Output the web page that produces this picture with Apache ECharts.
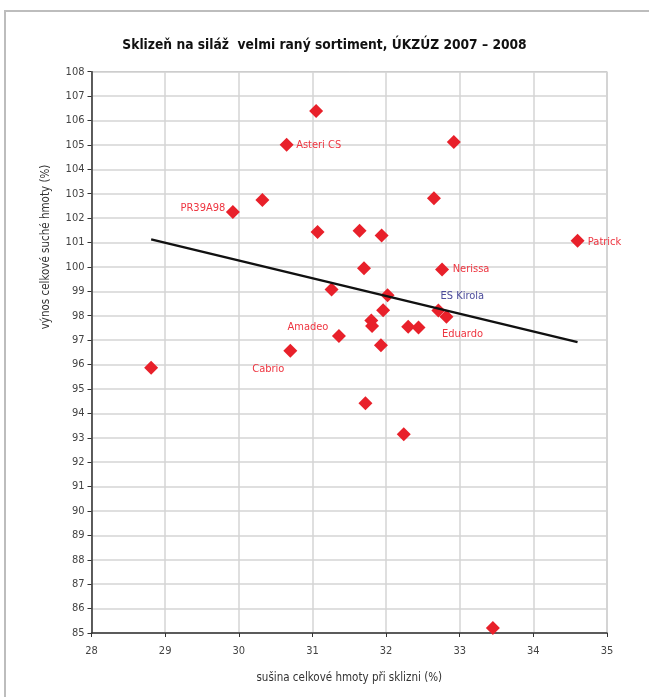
<!DOCTYPE html>
<html><head><meta charset="utf-8">
<script src="https://cdn.jsdelivr.net/npm/echarts@6/dist/echarts.min.js"></script>
<style>html,body{margin:0;padding:0;background:#fff}#c{width:649px;height:697px}</style>
</head><body><div id="c"></div>
<script>
// Data
var titleText = 'Sklizeň na siláž  velmi raný sortiment, ÚKZÚZ 2007 – 2008';
var xName = 'sušina celkové hmoty při sklizni (%)';
var yName = 'výnos celkové suché hmoty (%)';
var sušina = [31.05, 30.65, 29.92, 30.32, 31.07, 31.64, 31.70, 31.26, 31.36, 30.70, 32.92, 32.65, 31.94, 34.60, 32.76, 32.02, 31.96, 31.80, 31.81, 32.71, 32.82, 32.30, 32.44, 31.93, 28.81, 31.72, 32.24, 33.45];
var vynos  = [106.39, 105.01, 102.25, 102.74, 101.43, 101.48, 99.95, 99.08, 97.17, 96.57, 105.12, 102.81, 101.29, 101.07, 99.90, 98.84, 98.23, 97.80, 97.58, 98.21, 97.96, 97.55, 97.52, 96.79, 95.87, 94.41, 93.14, 85.20];
var names  = ['', 'Asteri CS', 'PR39A98', '', '', '', '', '', 'Amadeo', 'Cabrio', '', '', '', 'Patrick', 'Nerissa', '', '', '', '', 'ES Kirola', 'Eduardo', '', '', '', '', '', '', ''];
var trendX = [28.81, 34.60];
var trendY = [101.13, 96.92];

var FONT = '"Liberation Sans Narrow", "DejaVu Sans Condensed", "Open Sans", sans-serif';
var labelStyle = {
  'Asteri CS': {offset: [32, 0]},
  'PR39A98': {offset: [-30, -4]},
  'Patrick': {offset: [27, 1]},
  'Nerissa': {offset: [29, 0]},
  'ES Kirola': {offset: [24, -14], color: '#4b4b9b'},
  'Eduardo': {offset: [16, 17]},
  'Amadeo': {offset: [-31, -9]},
  'Cabrio': {offset: [-22, 18]}
};

var pts = sušina.map(function (x, i) {
  var d = {value: [x, vynos[i]], name: names[i]};
  if (names[i]) {
    var s = labelStyle[names[i]] || {};
    d.label = {show: true, position: 'inside', formatter: '{b}', offset: s.offset || [0, 0],
      color: s.color || '#ee3540', fontFamily: FONT, fontSize: 11};
  }
  return d;
});

var chart = echarts.init(document.getElementById('c'), null, {renderer: 'canvas'});
chart.setOption({
  animation: false,
  backgroundColor: '#fff',
  title: {text: titleText, left: 'center', top: 33,
    textStyle: {fontFamily: FONT, fontSize: 13.7, fontWeight: 'bold', color: '#111'}},
  grid: {left: 91.5, right: 42, top: 71.7, bottom: 64, show: true, borderColor: '#a6a6a6', borderWidth: 1},
  xAxis: {type: 'value', min: 28, max: 35, interval: 1,
    name: xName, nameLocation: 'middle', nameGap: 39,
    nameTextStyle: {fontFamily: FONT, fontSize: 11.5, color: '#333'},
    axisLine: {lineStyle: {color: '#333', width: 1.5}},
    axisTick: {show: true, length: 4, lineStyle: {color: '#333'}},
    axisLabel: {fontFamily: FONT, fontSize: 11, color: '#444', margin: 13},
    splitLine: {show: true, lineStyle: {color: '#d4d4d4', width: 1.5}}},
  yAxis: {type: 'value', min: 85, max: 108, interval: 1,
    axisLine: {show: true, lineStyle: {color: '#333', width: 1.5}},
    axisTick: {show: true, length: 4, lineStyle: {color: '#333'}},
    axisLabel: {fontFamily: FONT, fontSize: 11, color: '#444', margin: 7},
    splitLine: {show: true, lineStyle: {color: '#d4d4d4', width: 1.5}}},
  graphic: [
    {type: 'rect', shape: {x: 5, y: 11, width: 700, height: 700}, silent: true, z: -10,
      style: {fill: null, stroke: '#bdbdbd', lineWidth: 2}},
    {type: 'text', x: 46, y: 247, rotation: Math.PI / 2, silent: true,
      style: {text: yName, font: '11.5px ' + FONT, fill: '#333', textAlign: 'center', textVerticalAlign: 'middle'}}
  ],
  series: [
    {type: 'scatter', symbol: 'diamond', symbolSize: 14, data: pts, z: 3,
      itemStyle: {color: '#e8202a', opacity: 1}},
    {type: 'line', data: trendX.map(function (x, i) { return [x, trendY[i]]; }), showSymbol: false, symbol: 'none',
      lineStyle: {color: '#111', width: 2.5}, z: 4}
  ]
});
</script></body></html>
